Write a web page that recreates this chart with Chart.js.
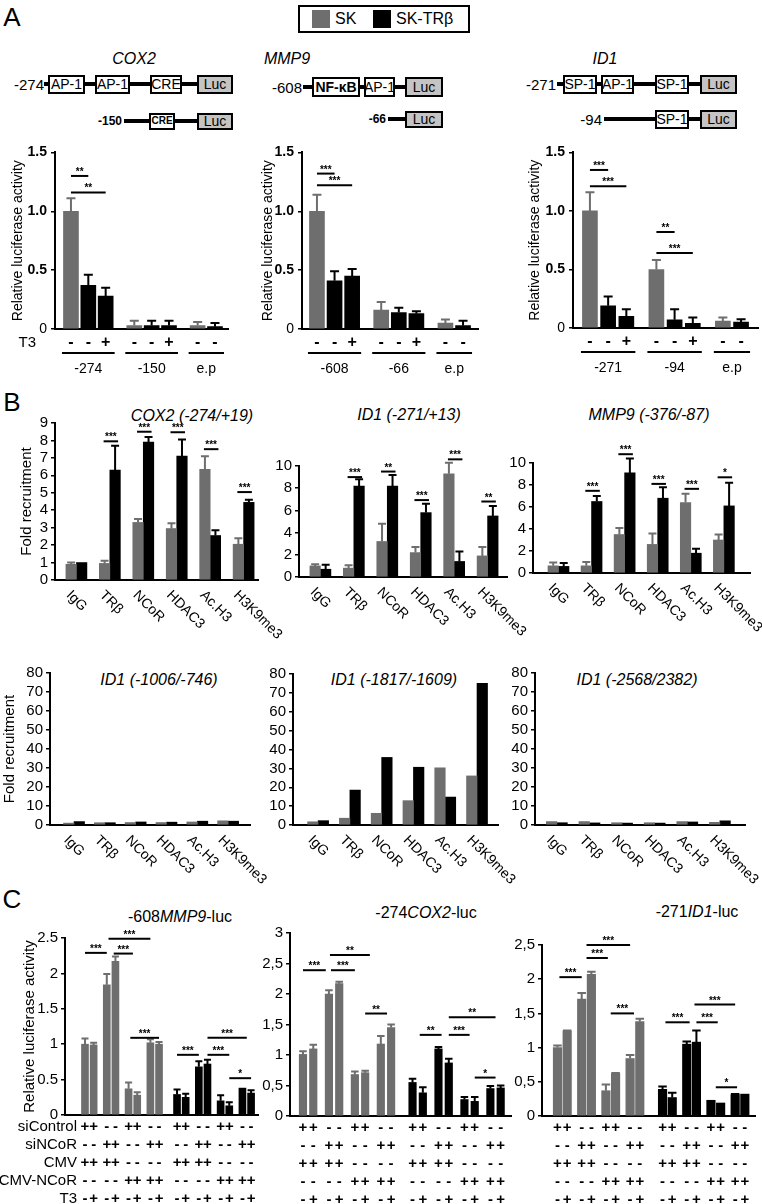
<!DOCTYPE html>
<html>
<head>
<meta charset="utf-8">
<script src="https://cdn.jsdelivr.net/npm/chart.js@4.4.0/dist/chart.umd.min.js"></script>
<style>
  html, body { margin: 0; padding: 0; }
  body { width: 762px; height: 1204px; position: relative; overflow: hidden; background: #fff;
         font-family: 'Liberation Sans', Arial, Helvetica, sans-serif; color: #000; }
  .t { position: absolute; white-space: nowrap; line-height: 1; }
  .bx { position: absolute; box-sizing: border-box; border: 2px solid #000; background: #fff; white-space: nowrap;
        display: flex; align-items: center; justify-content: center; font-size: 13px; line-height: 1; }
  .ln { position: absolute; background: #000; }
  canvas { position: absolute; }
</style>
</head>
<body>
<script>
const FONT = "'Liberation Sans', Arial, Helvetica, sans-serif";
const SK = '#6e6e6e';
const TR = '#000000';

// ---------- A: luciferase, promoter deletions ----------
const aCells = ['SK', 'TR', 'TR', 'SK', 'TR', 'TR', 'SK', 'TR'];
const aT3 = ['-', '-', '+', '-', '-', '+', '-', '-'];
const aGroupSizes = [3, 3, 2];

const cox2Constructs = ['-274', '-150', 'e.p'];
const cox2Luc = [1.00, 0.37, 0.28, 0.03, 0.03, 0.03, 0.03, 0.02];
const cox2LucErr = [0.11, 0.09, 0.07, 0.04, 0.04, 0.04, 0.03, 0.03];
const cox2LucSig = [[0, 1, 1.30, '**'], [0, 2, 1.16, '**']];

const mmp9Constructs = ['-608', '-66', 'e.p'];
const mmp9Luc = [1.00, 0.41, 0.45, 0.16, 0.14, 0.13, 0.05, 0.03];
const mmp9LucErr = [0.14, 0.08, 0.06, 0.07, 0.04, 0.02, 0.03, 0.04];
const mmp9LucSig = [[0, 1, 1.32, '***'], [0, 2, 1.22, '***']];

const id1Constructs = ['-271', '-94', 'e.p'];
const id1Luc = [1.00, 0.19, 0.10, 0.50, 0.07, 0.04, 0.06, 0.05];
const id1LucErr = [0.16, 0.08, 0.06, 0.08, 0.09, 0.05, 0.03, 0.025];
const id1LucSig = [[0, 1, 1.35, '***'], [0, 2, 1.21, '***'], [3, 4, 0.82, '**'], [3, 5, 0.64, '***']];

// ---------- B: ChIP fold recruitment ----------
const bTargets = ['IgG', 'TRβ', 'NCoR', 'HDAC3', 'Ac.H3', 'H3K9me3'];

const chipCox2Sk = [0.90, 0.95, 3.30, 2.95, 6.35, 2.05];
const chipCox2SkErr = [0.10, 0.15, 0.20, 0.30, 0.75, 0.35];
const chipCox2Tr = [1.00, 6.30, 7.90, 7.10, 2.55, 4.45];
const chipCox2TrErr = [0, 1.40, 0.30, 0.95, 0.30, 0.15];
const chipCox2Sig = [[1, 7.95, '***'], [2, 8.5, '***'], [3, 8.47, '***'], [4, 7.5, '***'], [5, 5.04, '***']];

const chipId1Sk = [1.00, 0.80, 3.20, 2.20, 9.30, 1.90];
const chipId1SkErr = [0.15, 0.25, 1.60, 0.50, 1.00, 0.80];
const chipId1Tr = [0.70, 8.20, 8.20, 5.80, 1.40, 5.50];
const chipId1TrErr = [0.40, 0.60, 1.00, 0.80, 0.90, 0.90];
const chipId1Sig = [[1, 9.0, '***'], [2, 9.5, '**'], [3, 6.93, '***'], [4, 10.6, '***'], [5, 6.8, '**']];

const chipMmp9Sk = [0.65, 0.65, 3.50, 2.60, 6.40, 3.00];
const chipMmp9SkErr = [0.30, 0.35, 0.60, 1.00, 0.80, 0.50];
const chipMmp9Tr = [0.60, 6.50, 9.10, 6.80, 1.80, 6.10];
const chipMmp9TrErr = [0.30, 0.50, 1.30, 1.00, 0.40, 2.10];
const chipMmp9Sig = [[1, 7.47, '***'], [2, 10.8, '***'], [3, 8.1, '***'], [4, 7.65, '***'], [5, 8.7, '*']];

const chipFarASk = [1.0, 1.2, 1.3, 1.3, 1.6, 2.2];
const chipFarATr = [1.8, 1.2, 1.6, 1.5, 2.0, 2.0];
const chipFarBSk = [1.7, 3.6, 6.2, 12.9, 30.3, 26.0];
const chipFarBTr = [2.3, 18.5, 35.8, 30.6, 14.8, 75.0];
const chipFarCSk = [1.8, 1.8, 1.2, 1.2, 1.8, 1.4];
const chipFarCTr = [1.2, 1.1, 1.0, 1.0, 1.6, 2.2];

// ---------- C: siNCoR / NCoR overexpression ----------
const cRowLabels = ['siControl', 'siNCoR', 'CMV', 'CMV-NCoR', 'T3'];
const cRowSigns = [
  ['+', '+', '-', '-', '+', '+', '-', '-'],
  ['-', '-', '+', '+', '-', '-', '+', '+'],
  ['+', '+', '+', '+', '-', '-', '-', '-'],
  ['-', '-', '-', '-', '+', '+', '+', '+'],
  ['-', '+', '-', '+', '-', '+', '-', '+']
];

const sinMmp9Sk = [1.00, 0.99, 1.84, 2.17, 0.37, 0.28, 1.02, 1.00];
const sinMmp9SkErr = [0.08, 0.03, 0.15, 0.07, 0.09, 0.04, 0.05, 0.03];
const sinMmp9Tr = [0.29, 0.25, 0.68, 0.72, 0.20, 0.13, 0.38, 0.31];
const sinMmp9TrErr = [0.07, 0.05, 0.08, 0.06, 0.08, 0.05, 0, 0.04];
const sinMmp9Sig = [[0, 2, 2.29, '***'], [2.8, 4.5, 2.28, '***'], [2.2, 6, 2.49, '***'], [4.2, 7, 1.09, '***'],
  [8, 10, 0.85, '***'], [11, 13, 0.85, '***'], [11, 14.5, 1.09, '***'], [13, 15, 0.52, '*']];

const sinCox2Sk = [1.01, 1.10, 2.00, 2.17, 0.68, 0.71, 1.18, 1.45];
const sinCox2SkErr = [0.05, 0.07, 0.06, 0.03, 0.05, 0.03, 0.13, 0.05];
const sinCox2Tr = [0.55, 0.38, 1.10, 0.87, 0.27, 0.24, 0.45, 0.46];
const sinCox2TrErr = [0.06, 0.09, 0.03, 0.07, 0.04, 0.07, 0.04, 0.04];
const sinCox2Sig = [[0, 1.8, 2.39, '***'], [2.2, 4, 2.39, '***'], [2.1, 5.3, 2.64, '**'], [5, 6.6, 1.68, '**'],
  [8.7, 10.3, 1.33, '**'], [11, 12.5, 1.33, '***'], [11, 14.5, 1.62, '**'], [13, 14.5, 0.63, '*']];

const sinId1Sk = [1.00, 1.24, 1.71, 2.07, 0.37, 0.62, 0.84, 1.38];
const sinId1SkErr = [0.03, 0.01, 0.09, 0.04, 0.09, 0.01, 0.05, 0.04];
const sinId1Tr = [0.39, 0.27, 1.05, 1.08, 0.23, 0.19, 0.31, 0.32];
const sinId1TrErr = [0.04, 0.07, 0.04, 0.17, 0, 0, 0.01, 0];
const sinId1Sig = [[0.2, 2, 2.03, '***'], [2.5, 4.2, 2.31, '***'], [2.5, 6, 2.5, '***'], [4.5, 6.4, 1.5, '***'],
  [8.3, 10.3, 1.37, '***'], [11, 12.7, 1.37, '***'], [10.8, 14, 1.63, '***'], [12.5, 14.2, 0.42, '*']];

// ---------- helpers ----------
Chart.defaults.font.family = FONT;
Chart.defaults.color = '#000';

function el(cls, css, html) {
  const d = document.createElement('div');
  d.className = cls;
  d.style.cssText = css;
  if (html) d.innerHTML = html;
  document.body.appendChild(d);
  return d;
}
function text(x, y, s, css, anchor) {
  const tx = anchor === 'r' ? '-100%' : anchor === 'l' ? '0' : '-50%';
  return el('t', `left:${x}px;top:${y}px;transform:translate(${tx},-50%);${css || ''}`, s);
}
function hline(x1, x2, y, th) {
  el('ln', `left:${x1}px;top:${y - th / 2}px;width:${x2 - x1}px;height:${th}px`);
}
function box(x1, x2, yc, h, s, css) {
  el('bx', `left:${x1}px;top:${yc - h / 2}px;width:${x2 - x1}px;height:${h}px;${css || ''}`, s);
}

function xAt(chart, k) {
  const bars = chart.getDatasetMeta(0).data;
  const i = Math.floor(k), f = k - i;
  if (f === 0 || i + 1 >= bars.length) return bars[Math.min(i, bars.length - 1)].x;
  return bars[i].x + f * (bars[i + 1].x - bars[i].x);
}

// error bars, significance bars, sign rows, group lines, slanted labels
const annot = {
  id: 'annot',
  afterDraw(chart, args, o) {
    const ctx = chart.ctx, ys = chart.scales.y, xs = chart.scales.x, area = chart.chartArea;
    ctx.save();
    chart.data.datasets.forEach((ds, di) => {
      if (!ds.err) return;
      chart.getDatasetMeta(di).data.forEach((bar, i) => {
        const e = ds.err[i];
        if (!e) return;
        const col = Array.isArray(ds.backgroundColor) ? ds.backgroundColor[i] : ds.backgroundColor;
        const top = ys.getPixelForValue(ds.data[i].y + e);
        const cap = bar.width * (o.capRatio || 0.3);
        ctx.strokeStyle = col;
        ctx.lineWidth = 2;
        ctx.beginPath();
        ctx.moveTo(bar.x, bar.y);
        ctx.lineTo(bar.x, top);
        ctx.moveTo(bar.x - cap, top);
        ctx.lineTo(bar.x + cap, top);
        ctx.stroke();
      });
    });
    ctx.fillStyle = '#000';
    ctx.strokeStyle = '#000';
    ctx.textAlign = 'center';
    ctx.textBaseline = 'alphabetic';
    ctx.font = 'bold 10px ' + FONT;
    (o.sig || []).forEach(s => {
      let x1, x2, v, t;
      if (o.pairSig) {
        x1 = chart.getDatasetMeta(0).data[s[0]].x - 1;
        x2 = chart.getDatasetMeta(1).data[s[0]].x + 3;
        v = s[1]; t = s[2];
      } else {
        x1 = xAt(chart, s[0]); x2 = xAt(chart, s[1]); v = s[2]; t = s[3];
      }
      const yy = ys.getPixelForValue(v);
      ctx.lineWidth = 2;
      ctx.beginPath();
      ctx.moveTo(x1, yy);
      ctx.lineTo(x2, yy);
      ctx.stroke();
      ctx.fillText(t, (x1 + x2) / 2, yy - 1);
    });
    if (o.rows) {
      const r = o.rows;
      r.signs.forEach((row, ri) => {
        const y = area.bottom + r.first + ri * r.step;
        ctx.textBaseline = 'middle';
        ctx.textAlign = 'center';
        ctx.font = r.signFont;
        row.forEach((s, k) => ctx.fillText(s, xAt(chart, k), y));
        if (r.labels) {
          ctx.textAlign = 'right';
          ctx.font = r.labelFont;
          ctx.fillText(r.labels[ri], r.labelX, y);
        }
      });
    }
    if (o.groups) {
      const g = o.groups;
      let k = 0;
      g.sizes.forEach((n, gi) => {
        const x1 = xAt(chart, k) - g.ext, x2 = xAt(chart, k + n - 1) + g.ext;
        ctx.lineWidth = 2;
        ctx.beginPath();
        ctx.moveTo(x1, area.bottom + g.lineDy);
        ctx.lineTo(x2, area.bottom + g.lineDy);
        ctx.stroke();
        ctx.textAlign = 'center';
        ctx.textBaseline = 'middle';
        ctx.font = '14px ' + FONT;
        ctx.fillText(g.labels[gi], (x1 + x2) / 2, area.bottom + g.labelDy);
        k += n;
      });
    }
    if (o.rot) {
      ctx.font = o.rot.font;
      ctx.textAlign = 'left';
      ctx.textBaseline = 'middle';
      o.rot.labels.forEach((s, i) => {
        ctx.save();
        ctx.translate(xs.getPixelForValue(i) + o.rot.dx, area.bottom + o.rot.dy);
        ctx.rotate(Math.PI / 4);
        ctx.fillText(s, 0, 0);
        ctx.restore();
      });
    }
    ctx.restore();
  }
};

function makeChart(g, datasets, yOpts, annotOpts) {
  const cv = document.createElement('canvas');
  cv.width = g.w;
  cv.height = g.h;
  cv.style.left = g.x + 'px';
  cv.style.top = g.y + 'px';
  cv.style.width = g.w + 'px';
  cv.style.height = g.h + 'px';
  document.body.appendChild(cv);
  const y = Object.assign({
    min: 0,
    border: { display: true, color: '#000', width: 2 },
    grid: { display: true, drawOnChartArea: false, drawTicks: true, tickLength: 4, color: '#000', lineWidth: 1.5 },
    afterFit: s => { s.width = g.yW; }
  }, yOpts);
  return new Chart(cv, {
    type: 'bar',
    data: { datasets },
    options: {
      responsive: false,
      animation: false,
      devicePixelRatio: 1,
      layout: { padding: { left: 0, right: g.padR, top: g.padT, bottom: 0 } },
      plugins: { legend: { display: false }, tooltip: { enabled: false }, annot: annotOpts },
      scales: {
        x: {
          type: 'linear', min: g.xMin, max: g.xMax, offset: false,
          grid: { display: false }, ticks: { display: false },
          border: { display: true, color: '#000', width: 2 },
          afterFit: s => { s.height = g.xH; }
        },
        y
      }
    },
    plugins: [annot]
  });
}

function groupPositions(sizes, gap) {
  const out = [];
  let p = 0;
  sizes.forEach(n => { for (let i = 0; i < n; i++) { out.push(p); p += 1; } p += gap; });
  return out;
}
function pairPositions(n, pairGap, groupGap) {
  const out = [];
  for (let k = 0; k < n; k++) out.push(k + Math.floor(k / 2) * pairGap + Math.floor(k / 8) * groupGap);
  return out;
}
function ySeries(vals, pos) { return vals.map((v, i) => ({ x: pos[i], y: v })); }

// ---------- page text and diagrams ----------
text(12, 17, 'A', 'font-size:26px');
text(12, 402, 'B', 'font-size:26px');
text(12, 899, 'C', 'font-size:26px');

// legend
el('t', 'left:298px;top:5px;width:172px;height:28px;box-sizing:border-box;border:2px solid #000;');
el('t', `left:312px;top:10px;width:18px;height:18px;background:${SK}`);
text(335, 19, 'SK', 'font-size:16px', 'l');
el('t', `left:373px;top:10px;width:18px;height:18px;background:${TR}`);
text(396, 19, 'SK-TRβ', 'font-size:16px', 'l');

// A titles and constructs
text(134, 59, 'COX2', 'font-size:16px;font-style:italic');
text(287, 59, 'MMP9', 'font-size:16px;font-style:italic');
text(605, 59, 'ID1', 'font-size:16px;font-style:italic');

const LUC = 'background:#c4c4c4;';
text(44, 84, '-274', 'font-size:15px', 'r');
hline(44, 198, 84, 4);
box(48, 85, 84, 19, 'AP-1', 'font-size:14px');
box(95, 130, 84, 19, 'AP-1', 'font-size:14px');
box(150, 182, 84, 19, 'CRE', 'font-size:14px');
box(197, 233, 84, 19, 'Luc', LUC + 'font-size:14px');
text(122, 121, '-150', 'font-size:12px;font-weight:bold', 'r');
hline(124, 198, 121, 4);
box(149, 175, 121, 17, 'CRE', 'font-size:10px;font-weight:bold');
box(197, 233, 121, 17, 'Luc', LUC + 'font-size:14px');

text(302, 87, '-608', 'font-size:15px', 'r');
hline(303, 406, 87, 4);
box(312, 360, 87, 20, 'NF-κB', 'font-weight:bold;font-size:14px');
box(364, 395, 87, 20, 'AP-1', 'font-size:14px');
box(405, 443, 87, 20, 'Luc', LUC + 'font-size:14px');
text(386, 119, '-66', 'font-size:12px;font-weight:bold', 'r');
hline(388, 406, 119, 4);
box(405, 443, 119, 17, 'Luc', LUC + 'font-size:14px');

text(556, 84, '-271', 'font-size:15px', 'r');
hline(557, 700, 84, 4);
box(563, 597, 84, 19, 'SP-1', 'font-size:14px');
box(601, 634, 84, 19, 'AP-1', 'font-size:14px');
box(655, 689, 84, 19, 'SP-1', 'font-size:14px');
box(700, 737, 84, 19, 'Luc', LUC + 'font-size:14px');
text(602, 119, '-94', 'font-size:15px', 'r');
hline(604, 700, 119, 4);
box(655, 689, 119, 19, 'SP-1', 'font-size:14px');
box(700, 737, 119, 19, 'Luc', LUC + 'font-size:14px');

// B titles
text(192, 416, 'COX2 (-274/+19)', 'font-size:16px;font-style:italic');
text(409, 415, 'ID1 (-271/+13)', 'font-size:16px;font-style:italic');
text(649, 415, 'MMP9 (-376/-87)', 'font-size:16px;font-style:italic');
text(159, 680, 'ID1 (-1006/-746)', 'font-size:16px;font-style:italic');
text(394, 680, 'ID1 (-1817/-1609)', 'font-size:16px;font-style:italic');
text(637, 680, 'ID1 (-2568/2382)', 'font-size:16px;font-style:italic');

// C titles
text(180, 917, '-608<i>MMP9</i>-luc', 'font-size:16px');
text(426, 913, '-274<i>COX2</i>-luc', 'font-size:16px');
text(697, 912, '-271<i>ID1</i>-luc', 'font-size:16px');

// ---------- charts ----------
const aPos = groupPositions(aGroupSizes, 0.65);
const aColors = aCells.map(c => (c === 'SK' ? SK : TR));
const aTicks = {
  stepSize: 0.5, padding: 4, autoSkip: false,
  font: c => ({ size: 14, weight: c.tick && c.tick.value ? 'bold' : 'normal' }),
  callback: v => (v === 0 ? '0' : v.toFixed(1))
};
function aChart(g, vals, errs, sig, constructs, withT3, titlePad) {
  return makeChart(g,
    [{ data: ySeries(vals, aPos), err: errs, backgroundColor: aColors, barThickness: 15 }],
    { max: 1.5, ticks: aTicks,
      title: { display: true, text: 'Relative luciferase activity', font: { size: 14 }, padding: { top: titlePad, bottom: 0 } } },
    { capRatio: 0.3, sig,
      rows: { signs: [aT3], labels: withT3 ? ['T3'] : null, labelX: 36, first: 14, step: 0,
              signFont: 'bold 16px ' + FONT, labelFont: '15px ' + FONT },
      groups: { sizes: aGroupSizes, labels: constructs, lineDy: 24, labelDy: 40, ext: 9 } });
}
aChart({ x: 0, y: 140, w: 235, h: 240, yW: 55, padT: 10, padR: 7, xH: 51, xMin: -0.92, xMax: 9.05 },
  cox2Luc, cox2LucErr, cox2LucSig, cox2Constructs, true, 9.6);
aChart({ x: 250, y: 140, w: 235, h: 240, yW: 52, padT: 9, padR: 7, xH: 51, xMin: -0.85, xMax: 9.15 },
  mmp9Luc, mmp9LucErr, mmp9LucSig, mmp9Constructs, false, 9.6);
aChart({ x: 505, y: 140, w: 257, h: 240, yW: 68, padT: 8, padR: 4, xH: 52, xMin: -0.93, xMax: 9.23 },
  id1Luc, id1LucErr, id1LucSig, id1Constructs, false, 21.6);

function bChart(g, sk, skErr, tr, trErr, sig, yMax, step, title, titlePad) {
  const idx = sk.map((v, i) => i);
  return makeChart(g,
    [{ data: ySeries(sk, idx), err: skErr, backgroundColor: SK, barThickness: 10.5 },
     { data: ySeries(tr, idx), err: trErr, backgroundColor: TR, barThickness: 10.5 }],
    { max: yMax, ticks: { stepSize: step, padding: 3, autoSkip: false, font: { size: 15 } },
      title: { display: !!title, text: title || '', font: { size: 15 }, padding: { top: titlePad || 0, bottom: 0 } } },
    { capRatio: 0.38, sig, pairSig: true,
      rot: { labels: bTargets, dx: -8, dy: 13, font: '14px ' + FONT } });
}
bChart({ x: 0, y: 400, w: 292, h: 245, yW: 55, padT: 23, padR: 34, xH: 65, xMin: -0.64, xMax: 5.43 },
  chipCox2Sk, chipCox2SkErr, chipCox2Tr, chipCox2TrErr, chipCox2Sig, 9, 1, 'Fold recruitment', 18);
bChart({ x: 262, y: 440, w: 278, h: 205, yW: 37, padT: 26, padR: 33, xH: 68, xMin: -0.64, xMax: 5.58 },
  chipId1Sk, chipId1SkErr, chipId1Tr, chipId1TrErr, chipId1Sig, 10, 2);
bChart({ x: 510, y: 440, w: 252, h: 205, yW: 23, padT: 23, padR: 12, xH: 72, xMin: -0.77, xMax: 5.79 },
  chipMmp9Sk, chipMmp9SkErr, chipMmp9Tr, chipMmp9TrErr, chipMmp9Sig, 10, 2);
bChart({ x: 0, y: 660, w: 285, h: 240, yW: 50, padT: 13, padR: 35, xH: 75, xMin: -0.78, xMax: 5.71 },
  chipFarASk, null, chipFarATr, null, [], 80, 10, 'Fold recruitment', 1);
bChart({ x: 255, y: 660, w: 280, h: 240, yW: 38, padT: 14, padR: 37, xH: 75, xMin: -0.79, xMax: 5.66 },
  chipFarBSk, null, chipFarBTr, null, [], 80, 10);
bChart({ x: 505, y: 660, w: 257, h: 240, yW: 30, padT: 13, padR: 17, xH: 75, xMin: -0.67, xMax: 5.77 },
  chipFarCSk, null, chipFarCTr, null, [], 80, 10);

const cSigns16 = cRowSigns.map(r => r.concat(r));
function cChart(g, sk, skErr, tr, trErr, sig, yMax, comma, thick, pairGap, groupGap, withLabels, titlePad) {
  const pos = pairPositions(16, pairGap, groupGap);
  const vals = sk.concat(tr), errs = skErr.concat(trErr);
  const cols = vals.map((v, i) => (i < 8 ? SK : TR));
  return makeChart(g,
    [{ data: ySeries(vals, pos), err: errs, backgroundColor: cols, barThickness: thick }],
    { max: yMax,
      ticks: { stepSize: 0.5, padding: 3, autoSkip: false, font: { size: 15 },
               callback: v => (comma ? String(v).replace('.', ',') : String(v)) },
      title: { display: withLabels, text: 'Relative luciferase activity', font: { size: 15 }, padding: { top: titlePad || 0, bottom: 0 } } },
    { capRatio: 0.5, sig,
      rows: { signs: cSigns16, labels: withLabels ? cRowLabels : null, labelX: 77, first: 12, step: 18,
              signFont: 'bold 15px ' + FONT, labelFont: '15px ' + FONT } });
}
cChart({ x: 0, y: 920, w: 262, h: 284, yW: 65, padT: 18, padR: 4, xH: 89, xMin: -2.31, xMax: 20.0 },
  sinMmp9Sk, sinMmp9SkErr, sinMmp9Tr, sinMmp9TrErr, sinMmp9Sig, 2.5, false, 7, 0.52, 0.56, true, 21);
cChart({ x: 262, y: 920, w: 250, h: 284, yW: 28, padT: 13, padR: 0, xH: 88, xMin: -1.26, xMax: 20.3 },
  sinCox2Sk, sinCox2SkErr, sinCox2Tr, sinCox2TrErr, sinCox2Sig, 3, true, 7.5, 0.52, 0.56, false);
cChart({ x: 512, y: 920, w: 250, h: 284, yW: 30, padT: 25, padR: 7, xH: 88, xMin: -1.6, xMax: 20.4 },
  sinId1Sk, sinId1SkErr, sinId1Tr, sinId1TrErr, sinId1Sig, 2.5, true, 8.5, 0.5, 0.85, false);
</script>
</body>
</html>
